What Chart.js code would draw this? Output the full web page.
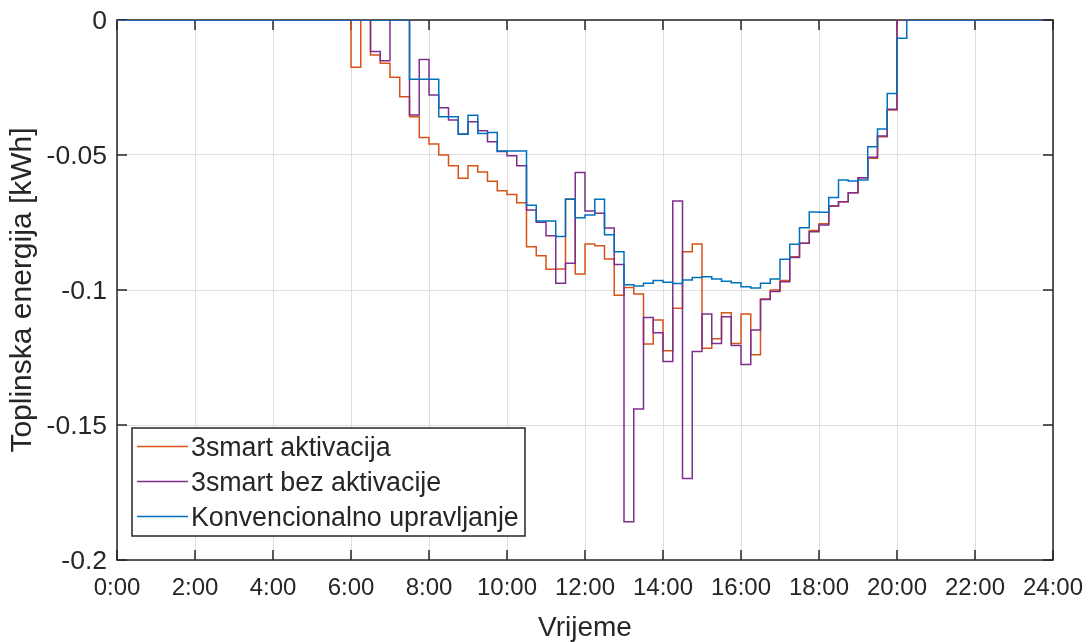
<!DOCTYPE html>
<html>
<head>
<meta charset="utf-8">
<script src="https://cdn.jsdelivr.net/npm/chart.js@4/dist/chart.umd.min.js"></script>
<style>
    html, body { margin: 0; padding: 0; background: #fff; overflow: hidden; }
    #wrap { width: 1092px; height: 642px; }
</style>
</head>
<body>
<div id="wrap"><canvas id="energy"></canvas></div>
<script>
// vrijednosti po 15 min (96 intervala, 0:00 - 23:45)
const zero24 = [0, 0, 0, 0, 0, 0, 0, 0, 0, 0, 0, 0, 0, 0, 0, 0, 0, 0, 0, 0, 0, 0, 0, 0]
const zero16 = [0, 0, 0, 0, 0, 0, 0, 0, 0, 0, 0, 0, 0, 0, 0, 0]

const aktivacija = [
    ...zero24,
    -0.0175, 0, -0.013, -0.016, -0.0212, -0.0284, -0.0358, -0.0435,
    -0.0459, -0.05, -0.054, -0.0586, -0.054, -0.0563, -0.0597, -0.0632,
    -0.0646, -0.0677, -0.084, -0.0873, -0.0923, -0.0922, -0.0663, -0.0941,
    -0.083, -0.0836, -0.0885, -0.1019, -0.0991, -0.1015, -0.12, -0.1111,
    -0.1225, -0.1068, -0.0858, -0.083, -0.1216, -0.1181, -0.1084, -0.1198,
    -0.1089, -0.124, -0.1033, -0.1, -0.0965, -0.0877, -0.0827, -0.078,
    -0.0755, -0.0689, -0.0673, -0.064, -0.0584, -0.0512, -0.0432, -0.0333,
    ...zero16,
]

const bezAktivacije = [
    ...zero24,
    0, 0, -0.0117, -0.0151, 0, 0, -0.0352, -0.0146,
    -0.0278, -0.0325, -0.037, -0.0422, -0.0377, -0.041, -0.0451, -0.0487,
    -0.0503, -0.054, -0.0704, -0.0749, -0.0799, -0.0975, -0.0901, -0.0565,
    -0.0707, -0.0716, -0.077, -0.0906, -0.1858, -0.1441, -0.1102, -0.1158,
    -0.1265, -0.067, -0.1698, -0.1228, -0.1089, -0.1198, -0.1099, -0.1206,
    -0.1276, -0.1148, -0.1035, -0.1006, -0.0969, -0.088, -0.0827, -0.0784,
    -0.0759, -0.0689, -0.0673, -0.064, -0.0584, -0.0508, -0.043, -0.0331,
    ...zero16,
]

const konvencionalno = [
    ...zero24,
    0, 0, 0, 0, 0, 0, -0.0219, -0.0219,
    -0.0219, -0.0358, -0.0358, -0.0423, -0.0353, -0.042, -0.0417, -0.0485,
    -0.0485, -0.0485, -0.0686, -0.0744, -0.0744, -0.0802, -0.0664, -0.0732,
    -0.0722, -0.0664, -0.0795, -0.0858, -0.0981, -0.0985, -0.0975, -0.0965,
    -0.0971, -0.0976, -0.0963, -0.0954, -0.0951, -0.0959, -0.0968, -0.0973,
    -0.0988, -0.0993, -0.0975, -0.0959, -0.0886, -0.0831, -0.0769, -0.0711,
    -0.0712, -0.0657, -0.0593, -0.0596, -0.0593, -0.0469, -0.0404, -0.0272,
    -0.0068, 0, 0, 0, 0, 0, 0, 0, 0, 0, 0, 0, 0, 0, 0, 0,
]

const seriesNames = ['3smart aktivacija', '3smart bez aktivacije', 'Konvencionalno upravljanje']
const seriesColors = ['#D95319', '#7E2F8E', '#0072BD']

const hourTicks = [0, 2, 4, 6, 8, 10, 12, 14, 16, 18, 20, 22, 24]
const hourLabels = ['0:00', '2:00', '4:00', '6:00', '8:00', '10:00', '12:00', '14:00', '16:00', '18:00', '20:00', '22:00', '24:00']
const energyTicks = [-0.2, -0.15, -0.1, -0.05, 0]
const energyLabels = ['-0.2', '-0.15', '-0.1', '-0.05', '0']

const FONT = "'Liberation Sans', Arial, Helvetica, sans-serif"
const INK = '#262626'

const toPoints = (arr) => arr.map((v, i) => ({ x: i / 4, y: v }))

// okvir osi s unutarnjim crticama (kao u MATLAB-u)
const axesBox = {
    id: 'axesBox',
    beforeDatasetsDraw(chart) {
        const { ctx, chartArea: a, scales } = chart
        ctx.save()
        ctx.strokeStyle = INK
        ctx.lineWidth = 1.5
        ctx.strokeRect(a.left, a.top, a.right - a.left, a.bottom - a.top)
        ctx.beginPath()
        scales.x.ticks.forEach((t) => {
            const px = scales.x.getPixelForValue(t.value)
            ctx.moveTo(px, a.bottom)
            ctx.lineTo(px, a.bottom - 10)
            ctx.moveTo(px, a.top)
            ctx.lineTo(px, a.top + 10)
        })
        scales.y.ticks.forEach((t) => {
            const py = scales.y.getPixelForValue(t.value)
            ctx.moveTo(a.left, py)
            ctx.lineTo(a.left + 10, py)
            ctx.moveTo(a.right, py)
            ctx.lineTo(a.right - 10, py)
        })
        ctx.stroke()
        ctx.restore()
    },
}

// legenda unutar grafa, dolje lijevo
const boxLegend = {
    id: 'boxLegend',
    afterDraw(chart) {
        const { ctx, chartArea: a } = chart
        const sets = chart.data.datasets
        const left = a.left + 15
        const top = a.bottom - 132
        const w = 393
        const h = 108
        ctx.save()
        ctx.fillStyle = '#fff'
        ctx.fillRect(left, top, w, h)
        ctx.strokeStyle = INK
        ctx.lineWidth = 1.5
        ctx.strokeRect(left, top, w, h)
        ctx.font = '26.8px ' + FONT
        ctx.textBaseline = 'middle'
        sets.forEach((ds, i) => {
            const cy = top + 20 + i * 35
            ctx.strokeStyle = ds.borderColor
            ctx.lineWidth = 1.5
            ctx.beginPath()
            ctx.moveTo(left + 5, cy - 1.5)
            ctx.lineTo(left + 56, cy - 1.5)
            ctx.stroke()
            ctx.fillStyle = INK
            ctx.fillText(ds.label, left + 59, cy + 1)
        })
        ctx.restore()
    },
}

const data = {
    datasets: [
        { label: seriesNames[0], data: toPoints(aktivacija), borderColor: seriesColors[0], order: 3 },
        { label: seriesNames[1], data: toPoints(bezAktivacije), borderColor: seriesColors[1], order: 2 },
        { label: seriesNames[2], data: toPoints(konvencionalno), borderColor: seriesColors[2], order: 1 },
    ],
}

const options = {
    responsive: true,
    maintainAspectRatio: false,
    animation: false,
    layout: { padding: { top: 20, right: 39, left: 0, bottom: 0 } },
    elements: {
        line: { borderWidth: 1.5, stepped: 'before', tension: 0 },
        point: { radius: 0 },
    },
    plugins: {
        legend: { display: false },
        tooltip: { enabled: false },
    },
    scales: {
        x: {
            type: 'linear',
            min: 0,
            max: 24,
            afterBuildTicks: (scale) => { scale.ticks = hourTicks.map((v) => ({ value: v })) },
            afterFit: (scale) => {
                scale.height = 82
                scale.paddingLeft = 0
                scale.paddingRight = 0
            },
            ticks: {
                callback: (v, i) => hourLabels[i],
                padding: 14,
                maxRotation: 0,
                autoSkip: false,
                color: INK,
                font: { family: FONT, size: 24 },
            },
            grid: { color: '#dfdfdf', drawTicks: false, lineWidth: 1 },
            border: { display: false },
            title: {
                display: true,
                text: 'Vrijeme',
                color: INK,
                font: { family: FONT, size: 28, lineHeight: 1 },
                padding: { top: 0, bottom: 0 },
            },
        },
        y: {
            type: 'linear',
            min: -0.2,
            max: 0,
            afterBuildTicks: (scale) => { scale.ticks = energyTicks.map((v) => ({ value: v })) },
            afterFit: (scale) => {
                scale.width = 117
                scale.paddingTop = 0
                scale.paddingBottom = 0
            },
            ticks: {
                callback: (v, i) => energyLabels[i],
                padding: 10,
                labelOffset: 2,
                autoSkip: false,
                color: INK,
                font: { family: FONT, size: 26.5 },
            },
            grid: { color: '#dfdfdf', drawTicks: false, lineWidth: 1 },
            border: { display: false },
            title: {
                display: true,
                text: 'Toplinska energija [kWh]',
                color: INK,
                font: { family: FONT, size: 30, lineHeight: 1 },
                padding: { top: 8, bottom: 0 },
            },
        },
    },
}

const chart = new Chart(document.getElementById('energy'), {
    type: 'line',
    data: data,
    options: options,
    plugins: [axesBox, boxLegend],
})
</script>
</body>
</html>
